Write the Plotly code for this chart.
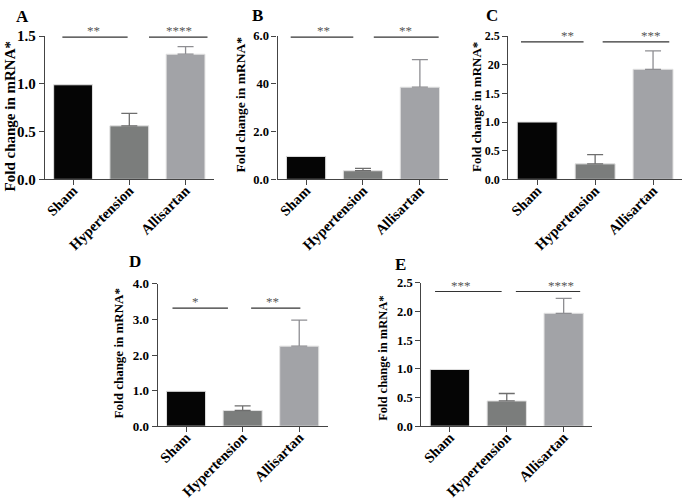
import plotly.graph_objects as go

W, H = 685, 500
categories = ["Sham", "Hypertension", "Allisartan"]
bar_colors = ["#050505", "#7b7d7c", "#a2a3a7"]
err_colors = ["#050505", "#6e6e6e", "#8e8e92"]

# panel data
a_vals = [0.99, 0.56, 1.31]
a_err = [0.0, 0.13, 0.08]
b_vals = [0.96, 0.36, 3.86]
b_err = [0.0, 0.10, 1.15]
c_vals = [1.00, 0.27, 1.92]
c_err = [0.0, 0.16, 0.32]
d_vals = [0.98, 0.44, 2.25]
d_err = [0.0, 0.13, 0.73]
e_vals = [0.99, 0.44, 1.97]
e_err = [0.0, 0.13, 0.26]

a_ticks = [0, 0.5, 1.0, 1.5]
a_ticktext = ["0.0", "0.5", "1.0", "1.5"]
b_ticks = [0, 2, 4, 6]
b_ticktext = ["0.0", "2.0", "40", "6.0"]
c_ticks = [0, 0.5, 1.0, 1.5, 2.0, 2.5]
c_ticktext = ["0.0", "0.5", "1.0", "1.5", "20", "2.5"]
d_ticks = [0, 1, 2, 3, 4]
d_ticktext = ["0.0", "1.0", "2.0", "3.0", "4.0"]
e_ticks = [0, 0.5, 1.0, 1.5, 2.0, 2.5]
e_ticktext = ["0.0", "0.5", "1.0", "1.5", "2.0", "2.5"]

# significance: (x0, x1, y, label, label_x)
a_sig = [(-0.19, 0.97, 1.49, "**", 0.37), (1.35, 2.39, 1.49, "****", 1.88)]
b_sig = [(-0.27, 0.83, 5.96, "**", 0.30), (1.19, 2.33, 5.96, "**", 1.75)]
c_sig = [(-0.28, 0.80, 2.40, "**", 0.53), (1.13, 2.28, 2.40, "***", 1.96)]
d_sig = [(-0.24, 0.74, 3.32, "*", 0.16), (1.15, 2.02, 3.32, "**", 1.52)]
e_sig = [(-0.26, 0.91, 2.35, "***", 0.19), (1.16, 2.29, 2.35, "****", 1.96)]

FONT = "Liberation Serif"

# panel layout in pixels: (x0, x1, ytop, ybottom)
panels = [
    dict(letter="A", vals=a_vals, err=a_err, ticks=a_ticks, tt=a_ticktext, top=1.5, sig=a_sig,
         box=(44, 213, 29, 177), tfs=15, title_pos=(9, 112), title_fs=15, letter_pos=(22, 9)),
    dict(letter="B", vals=b_vals, err=b_err, ticks=b_ticks, tt=b_ticktext, top=6.0, sig=b_sig,
         box=(277, 448, 29, 177), tfs=12.5, title_pos=(240, 100), title_fs=13.5, letter_pos=(257, 8)),
    dict(letter="C", vals=c_vals, err=c_err, ticks=c_ticks, tt=c_ticktext, top=2.5, sig=c_sig,
         box=(508, 682, 29, 177), tfs=12, title_pos=(476, 102), title_fs=13, letter_pos=(492, 8)),
    dict(letter="D", vals=d_vals, err=d_err, ticks=d_ticks, tt=d_ticktext, top=4.0, sig=d_sig,
         box=(157, 327, 285, 432), tfs=13, title_pos=(118, 357), title_fs=13, letter_pos=(134, 262)),
    dict(letter="E", vals=e_vals, err=e_err, ticks=e_ticks, tt=e_ticktext, top=2.5, sig=e_sig,
         box=(421, 592, 284, 432), tfs=12.5, title_pos=(383, 362), title_fs=12.5, letter_pos=(400, 265)),
]

fig = go.Figure()
annotations = []
shapes = []
layout = {}

for i, p in enumerate(panels):
    n = "" if i == 0 else str(i + 1)
    xa, ya = "x" + n, "y" + n
    x0, x1, yt, yb = p["box"]
    for j, cat in enumerate(categories):
        fig.add_trace(go.Bar(
            x=[cat], y=[p["vals"][j]], xaxis=xa, yaxis=ya,
            marker=dict(color=bar_colors[j], line=dict(color="#e2e2e2", width=1)),
            width=0.69, showlegend=False, hoverinfo="skip",
            error_y=dict(type="data", symmetric=False, array=[p["err"][j]], arrayminus=[0],
                         visible=p["err"][j] > 0, color=err_colors[j], thickness=1.3, width=8),
        ))
    layout["xaxis" + n] = dict(
        domain=[x0 / W, x1 / W], anchor=ya, range=[-0.5, 2.5],
        categoryorder="array", categoryarray=categories,
        showline=True, linecolor="#444", linewidth=1.3,
        ticks="outside", ticklen=5, tickcolor="#444", tickwidth=1.3,
        tickangle=-45, ticklabelstandoff=-9,
        tickfont=dict(family=FONT, size=14.5, color="#000", weight="bold"),
        showgrid=False, zeroline=False, fixedrange=True,
    )
    layout["yaxis" + n] = dict(
        domain=[1 - yb / H, 1 - yt / H], anchor=xa, range=[0, p["top"]],
        tickvals=p["ticks"], ticktext=p["tt"],
        showline=True, linecolor="#444", linewidth=1.3,
        ticks="outside", ticklen=5, tickcolor="#444", tickwidth=1.3,
        tickfont=dict(family=FONT, size=p["tfs"], color="#000", weight="bold"),
        showgrid=False, zeroline=False, fixedrange=True,
    )
    for (sx0, sx1, sy, lab, lx) in p["sig"]:
        shapes.append(dict(type="line", xref=xa, yref=ya, x0=sx0, x1=sx1, y0=sy, y1=sy,
                           line=dict(color="#333", width=1.2)))
        annotations.append(dict(xref=xa, yref=ya, x=lx, y=sy, text=lab, showarrow=False,
                                yanchor="bottom", yshift=-3,
                                font=dict(family=FONT, size=13, color="#555555")))
    tx, ty = p["title_pos"]
    annotations.append(dict(xref="paper", yref="paper", x=tx / W, y=1 - ty / H,
                            text="<b>Fold change in mRNA*</b>", textangle=-90, showarrow=False,
                            xanchor="center", yanchor="middle",
                            font=dict(family=FONT, size=p["title_fs"], color="#000")))
    lx_, ly_ = p["letter_pos"]
    annotations.append(dict(xref="paper", yref="paper", x=lx_ / W, y=1 - ly_ / H,
                            text="<b>" + p["letter"] + "</b>", showarrow=False,
                            xanchor="center", yanchor="middle",
                            font=dict(family=FONT, size=17, color="#000")))

fig.update_layout(
    width=W, height=H, margin=dict(l=0, r=0, t=0, b=0),
    paper_bgcolor="white", plot_bgcolor="white", hovermode=False,
    annotations=annotations, shapes=shapes, bargap=0.31,
    **layout,
)
fig.write_html("out.html", config={"displayModeBar": False},
               post_script="document.body.style.margin='0';document.body.style.overflow='hidden';")
